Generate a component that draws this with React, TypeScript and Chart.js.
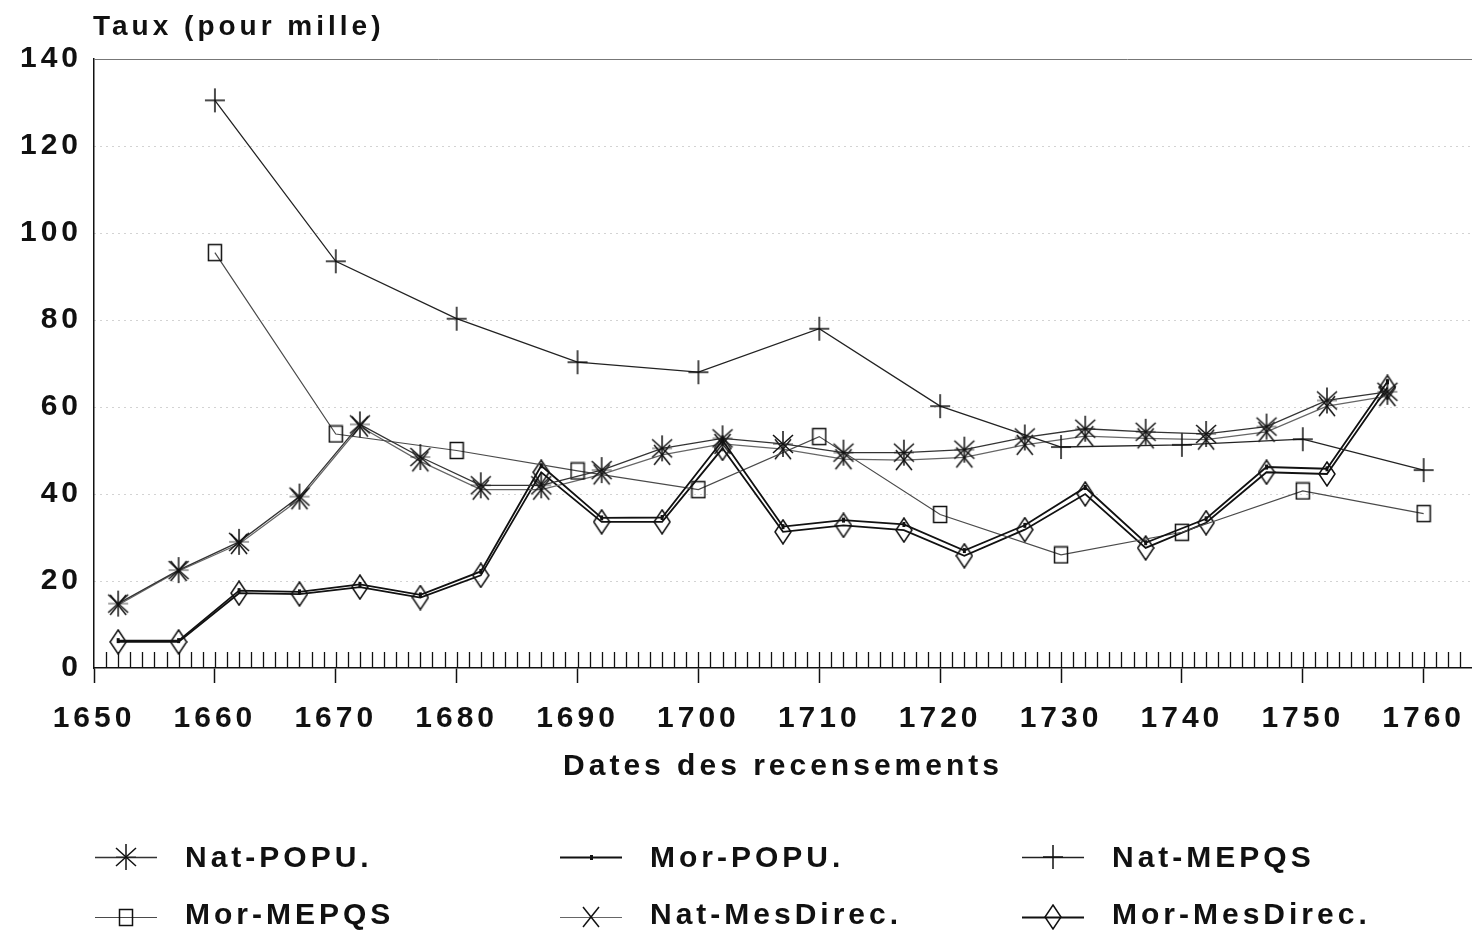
import React, { useEffect, useRef } from 'react';
import { Chart, registerables } from 'chart.js';

Chart.register(...registerables);

// ---- Data ----
const censusYears5 = [1652, 1657, 1662, 1667, 1672, 1677, 1682, 1687, 1692, 1697, 1702, 1707, 1712, 1717, 1722, 1727, 1732, 1737, 1742, 1747, 1752, 1757];
const censusYears10 = [1660, 1670, 1680, 1690, 1700, 1710, 1720, 1730, 1740, 1750, 1760];

const natPopu = [14.8, 22.5, 29, 39.4, 56, 48.5, 42, 42, 45.5, 50.5, 52.8, 51.5, 49.5, 49.5, 50.2, 53, 55, 54.3, 53.8, 55.5, 61.5, 63.5];
const natMesDirec = [14.5, 22.3, 28.5, 38.8, 55.5, 47.5, 41, 41, 44.5, 49, 51.5, 50.3, 48, 47.8, 48.4, 51.3, 53.3, 52.8, 52.5, 54.3, 60.2, 62.5];
const morPopu = [6.3, 6.3, 17.8, 17.5, 19.2, 16.8, 22.2, 46.5, 34.5, 34.6, 52.3, 32.5, 34, 33, 27, 32.8, 41.5, 28.8, 34.3, 46.2, 45.8, 65.8];
const morMesDirec = [6, 6, 17.2, 17, 18.6, 16.2, 21.3, 45, 33.6, 33.6, 50.5, 31.3, 32.8, 31.7, 25.8, 31.8, 40, 27.6, 33.4, 45, 44.6, 64.5];
const natMepqs = [130.5, 93.5, 80.3, 70.3, 68, 78, 60.2, 50.8, 51.3, 52.6, 45.5];
const morMepqs = [95.5, 53.8, 50, 45.3, 41, 53.2, 35.3, 26, 31.2, 40.7, 35.5];

const yTickValues = [0, 20, 40, 60, 80, 100, 120, 140];
const xTickYears = [1650, 1660, 1670, 1680, 1690, 1700, 1710, 1720, 1730, 1740, 1750, 1760];

const yAxisTitle = 'Taux (pour mille)';
const xAxisTitle = 'Dates des recensements';
const seriesNames = ['Nat-POPU.', 'Mor-POPU.', 'Nat-MEPQS', 'Mor-MEPQS', 'Nat-MesDirec.', 'Mor-MesDirec.'];

const FONT = '"Liberation Sans", Arial, Helvetica, sans-serif';
const SPACING = '4px';

type Drawer = (g: CanvasRenderingContext2D, w: number, h: number) => void;

function makeMarker(w: number, h: number, draw: Drawer): HTMLCanvasElement {
  const c = document.createElement('canvas');
  c.width = w;
  c.height = h;
  const g = c.getContext('2d') as CanvasRenderingContext2D;
  g.strokeStyle = '#111';
  g.fillStyle = '#111';
  g.lineWidth = 1.5;
  draw(g, w, h);
  return c;
}

function seg(g: CanvasRenderingContext2D, x1: number, y1: number, x2: number, y2: number) {
  g.beginPath();
  g.moveTo(x1, y1);
  g.lineTo(x2, y2);
  g.stroke();
}

export default function App() {
  const ref = useRef<HTMLCanvasElement | null>(null);

  useEffect(() => {
    const canvas = ref.current;
    if (!canvas) return;

    const asterisk = makeMarker(26, 28, (g) => {
      seg(g, 13, 1, 13, 27);
      seg(g, 3, 5, 23, 23);
      seg(g, 23, 5, 3, 23);
      g.globalAlpha = 0.5;
      seg(g, 3, 14, 23, 14);
    });
    const plus = makeMarker(22, 26, (g) => {
      seg(g, 11, 1, 11, 25);
      seg(g, 1, 13, 21, 13);
    });
    const xmark = makeMarker(20, 24, (g) => {
      seg(g, 2, 2, 18, 22);
      seg(g, 18, 2, 2, 22);
    });
    const square = makeMarker(16, 19, (g) => {
      g.strokeRect(1.5, 1.5, 13, 16);
    });
    const diamond = makeMarker(18, 26, (g) => {
      g.beginPath();
      g.moveTo(9, 1);
      g.lineTo(17, 13);
      g.lineTo(9, 25);
      g.lineTo(1, 13);
      g.closePath();
      g.stroke();
    });
    const dot = makeMarker(5, 7, (g) => {
      g.fillRect(1, 1, 3, 5);
    });

    const toXY = (xs: number[], ys: number[]) => xs.map((x, i) => ({ x, y: ys[i] }));

    const styles = [
      { color: '#333', width: 1.3, marker: asterisk },
      { color: '#111', width: 1.8, marker: dot },
      { color: '#222', width: 1.3, marker: plus },
      { color: '#4a4a4a', width: 1.2, marker: square },
      { color: '#666', width: 1.2, marker: xmark },
      { color: '#111', width: 1.8, marker: diamond },
    ];
    const seriesData = [
      toXY(censusYears5, natPopu),
      toXY(censusYears5, morPopu),
      toXY(censusYears10, natMepqs),
      toXY(censusYears10, morMepqs),
      toXY(censusYears5, natMesDirec),
      toXY(censusYears5, morMesDirec),
    ];

    const datasets = seriesNames.map((name, i) => ({
      label: name,
      data: seriesData[i],
      borderColor: styles[i].color,
      borderWidth: styles[i].width,
      backgroundColor: 'transparent',
      pointStyle: styles[i].marker,
      pointRadius: 6,
      pointHoverRadius: 6,
      tension: 0,
      fill: false,
    }));

    const spacingPlugin = {
      id: 'spacing',
      beforeUpdate(c: any) { c.ctx.letterSpacing = SPACING; },
      beforeLayout(c: any) { c.ctx.letterSpacing = SPACING; },
      beforeDraw(c: any) { c.ctx.letterSpacing = SPACING; },
    };

    const decorPlugin = {
      id: 'decor',
      beforeDatasetsDraw(c: any) {
        const ctx = c.ctx as CanvasRenderingContext2D;
        const xs = c.scales.x;
        const ys = c.scales.y;
        const area = c.chartArea;
        ctx.save();
        // top frame line at 140
        ctx.strokeStyle = '#777';
        ctx.lineWidth = 1;
        const yTop = Math.round(ys.getPixelForValue(140)) + 0.5;
        ctx.beginPath();
        ctx.moveTo(area.left, yTop);
        ctx.lineTo(area.right, yTop);
        ctx.stroke();
        // yearly minor ticks above the x axis
        ctx.strokeStyle = '#111';
        ctx.lineWidth = 1.3;
        const y0 = ys.getPixelForValue(0);
        for (let yr = 1651; yr <= 1763; yr++) {
          const px = Math.round(xs.getPixelForValue(yr)) + 0.5;
          ctx.beginPath();
          ctx.moveTo(px, y0);
          ctx.lineTo(px, y0 - 16);
          ctx.stroke();
        }
        ctx.restore();
      },
      afterDraw(c: any) {
        const ctx = c.ctx as CanvasRenderingContext2D;
        const area = c.chartArea;
        ctx.save();
        ctx.letterSpacing = SPACING;
        ctx.fillStyle = '#111';
        // y-axis title at top-left
        ctx.font = `bold 28px ${FONT}`;
        ctx.textAlign = 'left';
        ctx.textBaseline = 'alphabetic';
        ctx.fillText(yAxisTitle, area.left - 1, area.top - 24);

        // legend
        const cols = [95, 560, 1022];
        const rows = [{ line: 857, text: 867 }, { line: 917, text: 924 }];
        ctx.font = `bold 30px ${FONT}`;
        seriesNames.forEach((name, i) => {
          const col = cols[i % 3];
          const row = rows[Math.floor(i / 3)];
          ctx.strokeStyle = styles[i].color;
          ctx.lineWidth = styles[i].width;
          ctx.beginPath();
          ctx.moveTo(col, row.line + 0.5);
          ctx.lineTo(col + 62, row.line + 0.5);
          ctx.stroke();
          const m = styles[i].marker;
          ctx.drawImage(m, Math.round(col + 31 - m.width / 2), Math.round(row.line - m.height / 2));
          ctx.fillStyle = '#111';
          ctx.fillText(name, col + 90, row.text);
        });
        ctx.restore();
      },
    };

    const chart = new Chart(canvas, {
      type: 'line',
      data: { datasets: datasets as any },
      plugins: [spacingPlugin, decorPlugin],
      options: {
        animation: false,
        responsive: false,
        maintainAspectRatio: false,
        events: [],
        layout: { autoPadding: false, padding: { left: 0, right: 0, top: 59, bottom: 149 } },
        plugins: {
          legend: { display: false },
          tooltip: { enabled: false },
          title: { display: false },
        },
        scales: {
          x: {
            type: 'linear',
            min: 1650,
            max: 1764,
            afterBuildTicks: (s: any) => { s.ticks = xTickYears.map((v) => ({ value: v })); },
            afterFit: (s: any) => { s.height = 120; s.paddingRight = 0; s.paddingLeft = 0; },
            ticks: {
              autoSkip: false,
              maxRotation: 0,
              padding: 18,
              color: '#111',
              font: { family: FONT, size: 30, weight: 'bold' },
              callback: (v: any) => String(v),
            },
            grid: {
              drawOnChartArea: false,
              drawTicks: true,
              tickLength: 15,
              tickColor: '#111',
              tickWidth: 1.5,
            },
            border: { display: true, color: '#111', width: 1.5 },
            title: {
              display: true,
              text: xAxisTitle,
              color: '#111',
              font: { family: FONT, size: 30, weight: 'bold' },
              padding: { top: 0, bottom: 3 },
            },
          },
          y: {
            type: 'linear',
            min: 0,
            max: 140,
            afterBuildTicks: (s: any) => { s.ticks = yTickValues.map((v) => ({ value: v })); },
            afterFit: (s: any) => { s.width = 94; },
            ticks: {
              padding: 12,
              color: '#111',
              font: { family: FONT, size: 30, weight: 'bold' },
              callback: (v: any) => String(v),
            },
            grid: {
              drawTicks: false,
              color: (ctx: any) => (ctx.tick && (ctx.tick.value === 0 || ctx.tick.value === 140) ? 'rgba(0,0,0,0)' : 'rgba(0,0,0,0.35)'),
              lineWidth: 1,
            },
            border: { display: true, color: '#111', width: 1.5, dash: [1, 5] },
          },
        },
      },
    });

    return () => chart.destroy();
  }, []);

  return (
    <div style={{ position: 'fixed', left: 0, top: 0, width: 1472, height: 937, background: '#fff' }}>
      <canvas ref={ref} width={1472} height={937} />
    </div>
  );
}
